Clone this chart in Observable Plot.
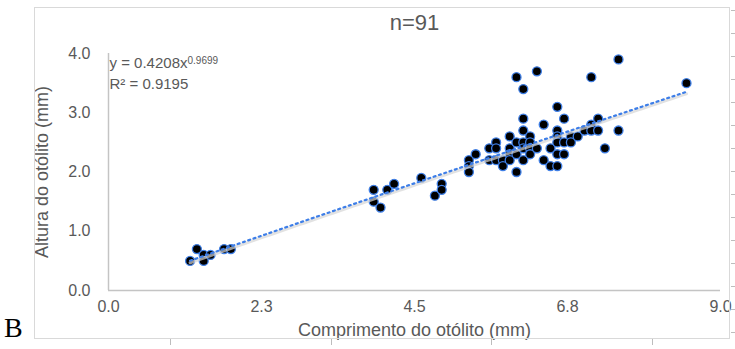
<!DOCTYPE html>
<html>
<head>
<meta charset="utf-8">
<script src="https://cdn.jsdelivr.net/npm/d3@7"></script>
<script src="https://cdn.jsdelivr.net/npm/@observablehq/plot@0.6"></script>
<style>
  html, body { margin: 0; padding: 0; background: white; }
  #wrap { position: relative; width: 735px; height: 349px; overflow: hidden; font-family: "Liberation Sans", Arial, sans-serif; }
  #chart { position: absolute; left: 0; top: 0; }
  #frame { position: absolute; left: 34px; top: 7px; width: 696px; height: 332px; border: 1.5px solid #d9d9d9; box-sizing: border-box; pointer-events: none; }
  #rticks { position: absolute; left: 731px; top: 0; width: 4px; height: 349px;
    background: repeating-linear-gradient(to bottom, transparent 0px, transparent 10px, #bdbdbd 10px, #bdbdbd 11px, transparent 11px, transparent 23px); }
  .bt { position: absolute; top: 339px; width: 1px; height: 6px; background: #bdbdbd; }
  #letter { position: absolute; left: 4px; top: 314px; font-family: "Liberation Serif", "Times New Roman", serif; font-size: 28px; line-height: 1; color: #000; }
</style>
</head>
<body>
<div id="wrap">
  <div id="chart"></div>
  <div id="frame"></div>
  <div id="rticks"></div>
  <div class="bt" style="left:170px"></div>
  <div class="bt" style="left:331px"></div>
  <div class="bt" style="left:491px"></div>
  <div class="bt" style="left:652px"></div>
  <div id="letter">B</div>
</div>
<script>
// ---- data ----
const comprimento = [
  1.2, 1.3, 1.4, 1.4, 1.5, 1.7, 1.8,
  3.9, 3.9, 4.0, 4.1, 4.2, 4.6, 4.8, 4.9, 4.9,
  5.3, 5.3, 5.3, 5.4,
  5.6, 5.6,
  5.7, 5.7, 5.7,
  5.8, 5.8,
  5.9, 5.9, 5.9, 5.9,
  6.0, 6.0, 6.0, 6.0,
  6.1, 6.1, 6.1, 6.1, 6.1, 6.1,
  6.2, 6.2, 6.2, 6.2,
  6.3, 6.3,
  6.4, 6.4,
  6.5, 6.5,
  6.6, 6.6, 6.6, 6.6, 6.6, 6.6,
  6.7, 6.7, 6.7,
  6.8, 6.8,
  6.9,
  7.0,
  7.1, 7.1, 7.1,
  7.2, 7.2,
  7.3,
  7.5, 7.5,
  8.5
];
const altura = [
  0.5, 0.7, 0.6, 0.5, 0.6, 0.7, 0.7,
  1.7, 1.5, 1.4, 1.7, 1.8, 1.9, 1.6, 1.8, 1.7,
  2.2, 2.1, 2.0, 2.3,
  2.4, 2.2,
  2.5, 2.4, 2.2,
  2.2, 2.1,
  2.6, 2.4, 2.3, 2.2,
  3.6, 2.5, 2.3, 2.0,
  3.4, 2.9, 2.7, 2.5, 2.4, 2.2,
  2.6, 2.5, 2.4, 2.3,
  3.7, 2.4,
  2.8, 2.2,
  2.4, 2.1,
  3.1, 2.7, 2.6, 2.5, 2.3, 2.1,
  2.9, 2.5, 2.3,
  2.6, 2.5,
  2.6,
  2.7,
  3.6, 2.8, 2.7,
  2.9, 2.7,
  2.4,
  3.9, 2.7,
  3.5
];
const xTicks = [0, 2.25, 4.5, 6.75, 9];
const xTickLabels = ["0.0", "2.3", "4.5", "6.8", "9.0"];
const yTicks = [0, 1, 2, 3, 4];
const yTickLabels = ["0.0", "1.0", "2.0", "3.0", "4.0"];
const titleText = "n=91";
const xLabel = "Comprimento do otólito (mm)";
const yLabel = "Altura do otólito (mm)";
const eqMain = "y = 0.4208x";
const eqExp = "0.9699";
const r2Text = "R² = 0.9195";
const trendCoef = 0.4208;
const trendExp = 0.9699;

// ---- build tables ----
const points = comprimento.map((c, i) => ({x: c, y: altura[i]}));
const xMin = d3.min(comprimento), xMax = d3.max(comprimento);
const trend = d3.range(0, 101).map(k => {
  const x = xMin + (xMax - xMin) * k / 100;
  return {x, y: trendCoef * Math.pow(x, trendExp)};
});

const ctx = document.createElement("canvas").getContext("2d");
ctx.font = "15px 'Liberation Sans'";
const eqW = ctx.measureText(eqMain).width;

const grey = "#595959";
const chart = Plot.plot({
  width: 735,
  height: 349,
  marginLeft: 108,
  marginRight: 15,
  marginTop: 53,
  marginBottom: 59,
  style: {fontFamily: "'Liberation Sans', Arial, sans-serif", background: "transparent", color: grey},
  x: {domain: [0, 9]},
  y: {domain: [0, 4]},
  marks: [
    Plot.axisX({ticks: xTicks, tickFormat: d => xTickLabels[xTicks.indexOf(d)], tickSize: 0, tickPadding: 10, fontSize: 16, label: null, fill: grey}),
    Plot.axisY({ticks: yTicks, tickFormat: d => yTickLabels[yTicks.indexOf(d)], tickSize: 0, tickPadding: 18, fontSize: 16, label: null, fill: grey}),
    Plot.axisY({ticks: yTicks, tickFormat: () => "", tickSize: 0, fontSize: 18, label: yLabel, labelAnchor: "center", labelArrow: "none", labelOffset: 73, fill: grey}),
    Plot.ruleX([0], {stroke: "#c4c4c4", strokeWidth: 1.5}),
    Plot.ruleY([0], {stroke: "#c4c4c4", strokeWidth: 1.5}),
    Plot.dot(points, {x: "x", y: "y", r: 4.5, fill: "black", stroke: "#3f7fe6", strokeWidth: 1.3}),
    Plot.line(trend, {x: "x", y: "y", stroke: "#d6d6d6", strokeWidth: 3, dy: 2, strokeOpacity: 0.7}),
    Plot.line(trend, {x: "x", y: "y", stroke: "#3d7ee8", strokeWidth: 2.2, strokeDasharray: "2,3.6"}),
    Plot.text([titleText], {frameAnchor: "top", dy: -31, fontSize: 22, fill: grey, lineAnchor: "middle"}),
    Plot.text([xLabel], {frameAnchor: "bottom", dy: 40, fontSize: 18, fill: grey, lineAnchor: "middle"}),
    Plot.text([eqMain], {frameAnchor: "top-left", textAnchor: "start", dx: 1, dy: 10, fontSize: 15, fill: grey, lineAnchor: "middle"}),
    Plot.text([eqExp], {frameAnchor: "top-left", textAnchor: "start", dx: 1 + eqW, dy: 7, fontSize: 10, fill: grey, lineAnchor: "middle"}),
    Plot.text([r2Text], {frameAnchor: "top-left", textAnchor: "start", dx: 1, dy: 31, fontSize: 15, fill: grey, lineAnchor: "middle"})
  ]
});
document.getElementById("chart").appendChild(chart);
</script>
</body>
</html>
